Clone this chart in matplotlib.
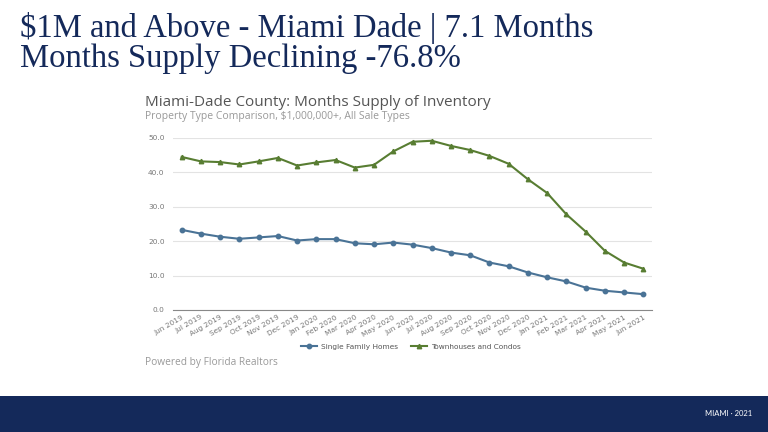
import matplotlib.pyplot as plt
from matplotlib.patches import Rectangle

# data
months = ['Jun 2019', 'Jul 2019', 'Aug 2019', 'Sep 2019', 'Oct 2019', 'Nov 2019', 'Dec 2019',
          'Jan 2020', 'Feb 2020', 'Mar 2020', 'Apr 2020', 'May 2020', 'Jun 2020', 'Jul 2020',
          'Aug 2020', 'Sep 2020', 'Oct 2020', 'Nov 2020', 'Dec 2020', 'Jan 2021', 'Feb 2021',
          'Mar 2021', 'Apr 2021', 'May 2021', 'Jun 2021']
single_family = [23.3, 22.2, 21.3, 20.7, 21.1, 21.5, 20.2, 20.6, 20.6, 19.4, 19.1, 19.6, 19.0,
                 18.0, 16.7, 15.9, 13.8, 12.7, 10.9, 9.5, 8.3, 6.5, 5.6, 5.1, 4.6]
townhouses = [44.5, 43.2, 43.0, 42.3, 43.2, 44.2, 42.0, 42.9, 43.6, 41.4, 42.2, 46.1, 48.9,
              49.2, 47.7, 46.5, 44.8, 42.5, 38.0, 34.0, 27.8, 22.8, 17.2, 13.8, 12.0]
yticks = [0, 10, 20, 30, 40, 50]

navy = '#14295a'
blue = '#4a7396'
green = '#587d32'

fig = plt.figure(figsize=(7.68, 4.32), dpi=100)
fig.patch.set_facecolor('white')

# slide title
fig.text(20 / 768, 1 - 28 / 432, '$1M and Above - Miami Dade | 7.1 Months',
         family='Liberation Serif', fontsize=23.5, color=navy, va='center')
fig.text(20 / 768, 1 - 59 / 432, 'Months Supply Declining -76.8%',
         family='Liberation Serif', fontsize=23.5, color=navy, va='center')

# footer band
fig.patches.append(Rectangle((0, 0), 1, 36 / 432, transform=fig.transFigure,
                             facecolor=navy, edgecolor='none'))
fig.text(752 / 768, 1 - 414 / 432, 'MIAMI \u00b7 2021', fontsize=5.5, color='white',
         ha='right', va='center', family='Lato')

# chart heading
fig.text(145 / 768, 1 - 102 / 432, 'Miami-Dade County: Months Supply of Inventory',
         fontsize=11, color='#555555', va='center', family='Open Sans')
fig.text(145 / 768, 1 - 116 / 432, 'Property Type Comparison, $1,000,000+, All Sale Types',
         fontsize=7.5, color='#999999', va='center', family='Open Sans')
fig.text(145 / 768, 1 - 363 / 432, 'Powered by Florida Realtors',
         fontsize=7.3, color='#999999', va='center', family='Open Sans')

ax = fig.add_axes([173 / 768, 1 - 310 / 432, (652 - 173) / 768, (310 - 138) / 432])
x = list(range(len(months)))
ax.plot(x, single_family, color=blue, marker='o', markersize=3.2, linewidth=1.5,
        label='Single Family Homes')
ax.plot(x, townhouses, color=green, marker='^', markersize=3.2, linewidth=1.5,
        label='Townhouses and Condos')

ax.set_xlim(-0.45, len(months) - 0.55)
ax.set_ylim(0, 50)
ax.set_yticks(yticks)
ax.set_yticklabels([f'{v:.1f}' for v in yticks], fontsize=5.3, color='#777777')
ax.set_xticks(x)
ax.set_xticklabels(months, rotation=30, ha='right', rotation_mode='anchor',
                   fontsize=5.3, color='#777777')
ax.tick_params(length=0, pad=6)
ax.tick_params(axis='x', pad=3)
ax.grid(axis='y', color='#e3e3e3', linewidth=0.8)
ax.set_axisbelow(True)
for s in ['top', 'right', 'left']:
    ax.spines[s].set_visible(False)
ax.spines['bottom'].set_color('#888888')
ax.spines['bottom'].set_linewidth(0.8)

fig.legend(loc='center', bbox_to_anchor=(411 / 768, 1 - 347 / 432), ncol=2,
           frameon=False, fontsize=5.3, labelcolor='#555555', handlelength=2.2,
           handletextpad=0.5, columnspacing=1.8)

fig.savefig('out.png', dpi=100)
